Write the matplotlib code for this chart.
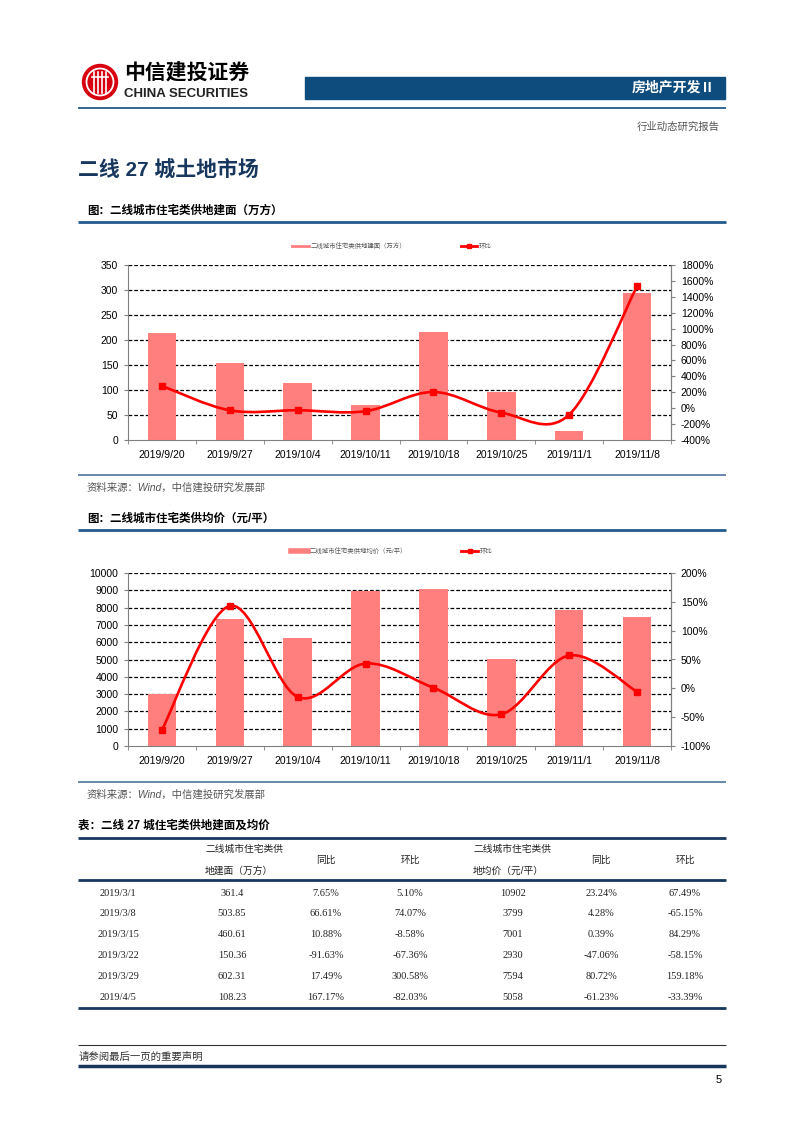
import numpy as np
import matplotlib
matplotlib.use('Agg')
import matplotlib.pyplot as plt
from matplotlib.path import Path
from matplotlib.patches import PathPatch, Circle, Rectangle
from matplotlib.lines import Line2D
from matplotlib.ticker import MultipleLocator, FuncFormatter

plt.rcParams['font.family'] = ['Liberation Sans', 'Noto Sans CJK SC']

# chart data
dates = ['2019/9/20', '2019/9/27', '2019/10/4', '2019/10/11',
         '2019/10/18', '2019/10/25', '2019/11/1', '2019/11/8']
area = [214, 155, 114, 71, 216, 96, 18, 294]
area_ring = [2.80, -0.27, -0.26, -0.38, 2.04, -0.56, -0.81, 15.33]
price = [3030, 7350, 6270, 8980, 9100, 5030, 7880, 7430]
price_ring = [-0.72, 1.43, -0.15, 0.43, 0.01, -0.45, 0.57, -0.06]

# table data
table_dates = ['2019/3/1', '2019/3/8', '2019/3/15', '2019/3/22', '2019/3/29', '2019/4/5']
table_area = ['361.4', '503.85', '460.61', '150.36', '602.31', '108.23']
table_area_yoy = ['7.65%', '66.61%', '10.88%', '-91.63%', '17.49%', '167.17%']
table_area_mom = ['5.10%', '74.07%', '-8.58%', '-67.36%', '300.58%', '-82.03%']
table_price = ['10902', '3799', '7001', '2930', '7594', '5058']
table_price_yoy = ['23.24%', '4.28%', '0.39%', '-47.06%', '80.72%', '-61.23%']
table_price_mom = ['67.49%', '-65.15%', '84.29%', '-58.15%', '159.18%', '-33.39%']

W, H = 802, 1133
BAR = '#FF7F7F'
RED = '#FF0000'
NAVY = '#17375E'
BLUE = '#245A8D'

fig = plt.figure(figsize=(W / 100, H / 100), dpi=100)
page = fig.add_axes([0, 0, 1, 1])
page.set_xlim(0, W)
page.set_ylim(H, 0)
page.axis('off')


def px_axes(l, t, r, b):
    return fig.add_axes([l / W, 1 - b / H, (r - l) / W, (b - t) / H])


def hline(y, x0, x1, color, lw):
    page.plot([x0, x1], [y, y], color=color, lw=lw, solid_capstyle='butt')


# ---- page header ----
page.add_patch(Circle((100, 82), 17.5, color='#D7000F'))
page.add_patch(Circle((100, 82), 13.5, fill=False, ec='white', lw=1.3))
for dx in (-6, -2, 2, 6):
    page.plot([100 + dx, 100 + dx], [72, 93], color='white', lw=1.2)
page.plot([92, 108], [77, 77], color='white', lw=1.2)
page.text(124, 72, '中信建投证券', fontsize=15, fontweight='bold', va='center', color='black')
page.text(124, 94, 'CHINA SECURITIES', fontsize=9.5, fontweight='bold', va='center', color='#222222')
page.add_patch(Rectangle((305, 77), 420, 22, color='#0E4C7E'))
page.text(715, 88, '房地产开发Ⅱ', fontsize=10, fontweight='bold', color='white', ha='right', va='center')
hline(108, 78, 726, BLUE, 1.3)
page.text(720, 127, '行业动态研究报告', fontsize=7.5, color='#555555', ha='right', va='center')
page.text(78, 170, '二线 27 城土地市场', fontsize=15, fontweight='bold', color=NAVY, va='center')


def smooth_path(xs, ys):
    # excel style smoothed line: bezier segments through the data points
    verts = [(xs[0], ys[0])]
    codes = [Path.MOVETO]
    n = len(xs)
    for i in range(n - 1):
        pa = (xs[i - 1], ys[i - 1]) if i > 0 else (xs[i], ys[i])
        pb = (xs[i + 2], ys[i + 2]) if i + 2 < n else (xs[i + 1], ys[i + 1])
        c1 = (xs[i] + (xs[i + 1] - pa[0]) / 6, ys[i] + (ys[i + 1] - pa[1]) / 6)
        c2 = (xs[i + 1] - (pb[0] - xs[i]) / 6, ys[i + 1] - (pb[1] - ys[i]) / 6)
        verts += [c1, c2, (xs[i + 1], ys[i + 1])]
        codes += [Path.CURVE4] * 3
    return Path(verts, codes)


def combo_chart(top, bottom, bars, ring, ymax, ystep, rmin, rmax, rstep, bar_label, legend_y, bar_lw):
    ax = px_axes(128, top, 671, bottom)
    ax.set_facecolor('none')
    x = np.arange(len(dates))
    ax.bar(x, bars, width=0.42, color=BAR, zorder=2)
    ax.set_xlim(-0.5, len(dates) - 0.5)
    ax.set_ylim(0, ymax)
    ax.yaxis.set_major_locator(MultipleLocator(ystep))
    ax.set_xticks(x)
    ax.set_xticklabels(dates)
    ax.set_xticks(np.arange(len(dates) + 1) - 0.5, minor=True)
    ax.tick_params(axis='x', which='major', length=0, pad=7, labelsize=7.5)
    ax.tick_params(axis='x', which='minor', length=3, color='#808080')
    ax.tick_params(axis='y', length=3, color='#808080', labelsize=7.5, pad=4)
    for t in np.arange(ystep, ymax + 1, ystep):
        ax.axhline(t, color='black', lw=0.9, ls=(0, (3, 1.6)), zorder=1)
    ax.spines['top'].set_visible(False)
    for s in ('left', 'right', 'bottom'):
        ax.spines[s].set_color('#808080')
        ax.spines[s].set_linewidth(0.8)

    ax2 = ax.twinx()
    ax2.set_ylim(rmin, rmax)
    ax2.yaxis.set_major_locator(MultipleLocator(rstep))
    ax2.yaxis.set_major_formatter(FuncFormatter(lambda v, p: f'{v * 100:.0f}%'))
    ax2.tick_params(axis='y', length=3, color='#808080', labelsize=7.5, pad=4)
    for s in ('top', 'left', 'bottom'):
        ax2.spines[s].set_visible(False)
    ax2.spines['right'].set_color('#808080')
    ax2.spines['right'].set_linewidth(0.8)
    ax2.add_patch(PathPatch(smooth_path(x, ring), fill=False, ec=RED, lw=1.9, zorder=3))
    ax2.plot(x, ring, ls='none', marker='s', ms=4.2, color=RED, zorder=4)

    handles = [Line2D([], [], color=BAR, lw=bar_lw),
               Line2D([], [], color=RED, lw=2, marker='s', ms=2.5)]
    fig.legend(handles, [bar_label, '环比'], loc='center', ncol=2,
               bbox_to_anchor=(392 / W, 1 - legend_y / H), frameon=False,
               fontsize=4.6, labelcolor='#555555', handlelength=2.6,
               handletextpad=0.3, columnspacing=8.5)


# ---- chart 1 ----
page.text(87, 211, '图：二线城市住宅类供地建面（万方）', fontsize=8.3, fontweight='bold', va='center')
hline(222, 78, 726, BLUE, 2)
combo_chart(265, 440, area, area_ring, 350, 50, -4, 18, 2,
            '二线城市住宅类供地建面（万方）', 246, 2)
hline(475, 78, 726, '#5B7FA3', 1.3)
page.text(87, 488, '资料来源：Wind，中信建投研究发展部', fontsize=7.5, style='italic',
          color='#555555', va='center')

# ---- chart 2 ----
page.text(87, 519, '图：二线城市住宅类供均价（元/平）', fontsize=8.3, fontweight='bold', va='center')
hline(530, 78, 726, BLUE, 2)
combo_chart(573, 746, price, price_ring, 10000, 1000, -1, 2, 0.5,
            '二线城市住宅类供地均价（元/平）', 551, 4)
hline(782, 78, 726, '#5B7FA3', 1.3)
page.text(87, 795, '资料来源：Wind，中信建投研究发展部', fontsize=7.5, style='italic',
          color='#555555', va='center')

# ---- table ----
page.text(78, 826, '表：二线 27 城住宅类供地建面及均价', fontsize=8.3, fontweight='bold', va='center')
hline(838, 78, 726, NAVY, 2)
hline(880, 78, 726, NAVY, 2)
hline(1008, 78, 726, NAVY, 2)
col_x = [118, 232, 326, 410, 513, 601, 685]
hdr = dict(fontsize=7, va='center', color='#222222')
page.text(205, 849, '二线城市住宅类供', ha='left', **hdr)
page.text(205, 871, '地建面（万方）', ha='left', **hdr)
page.text(473, 849, '二线城市住宅类供', ha='left', **hdr)
page.text(473, 871, '地均价（元/平）', ha='left', **hdr)
for cx, lab in zip([col_x[2], col_x[3], col_x[5], col_x[6]], ['同比', '环比', '同比', '环比']):
    page.text(cx, 860, lab, ha='center', **hdr)
columns = [table_dates, table_area, table_area_yoy, table_area_mom,
           table_price, table_price_yoy, table_price_mom]
for j, col in enumerate(columns):
    for i, val in enumerate(col):
        page.text(col_x[j], 893 + i * 20.8, val, ha='center', va='center', fontsize=7.5,
                  family=['Liberation Serif', 'Noto Sans CJK SC'], color='#222222')

# ---- footer ----
hline(1045, 78, 726, '#333333', 0.8)
page.text(79, 1057, '请参阅最后一页的重要声明', fontsize=7.5, color='#333333', va='center')
hline(1066, 78, 726, NAVY, 2.5)
page.text(722, 1080, '5', fontsize=8, ha='right', va='center')

fig.savefig('out.png', dpi=100)
